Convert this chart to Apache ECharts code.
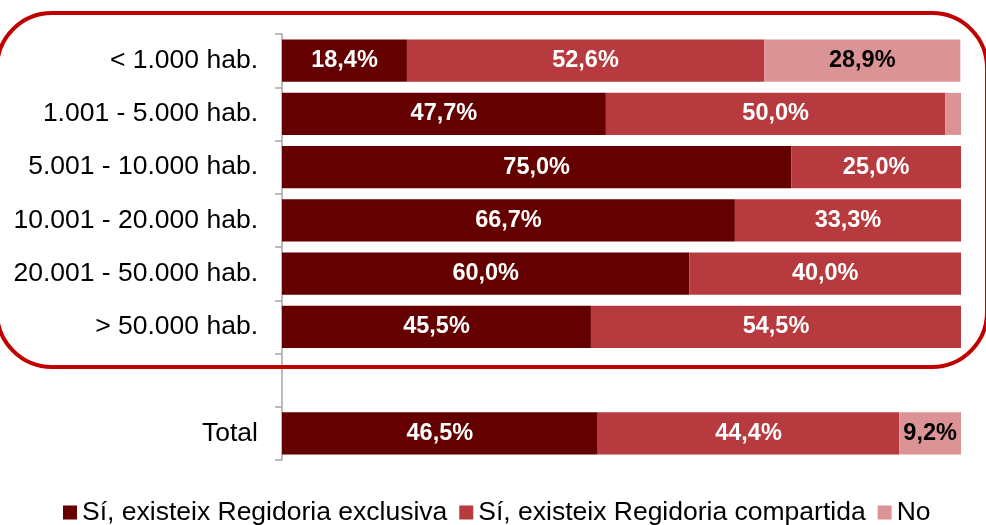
<!DOCTYPE html>
<html>
<head>
<meta charset="utf-8">
<script src="https://cdn.jsdelivr.net/npm/echarts@6/dist/echarts.min.js"></script>
<style>
html,body{margin:0;padding:0;background:#fff;}
#chart{width:986px;height:525px;}
</style>
</head>
<body>
<div id="chart"></div>
<script>
const categories = ['< 1.000 hab.', '1.001 - 5.000 hab.', '5.001 - 10.000 hab.', '10.001 - 20.000 hab.', '20.001 - 50.000 hab.', '> 50.000 hab.', '', 'Total'];
const seriesNames = ['Sí, existeix Regidoria exclusiva', 'Sí, existeix Regidoria compartida', 'No'];
const exclusiva = [18.4, 47.7, 75.0, 66.7, 60.0, 45.5, null, 46.5];
const compartida = [52.6, 50.0, 25.0, 33.3, 40.0, 54.5, null, 44.4];
const no = [28.9, 2.3, null, null, null, null, null, 9.2];
const colors = ['#640000', '#B73A3F', '#DC9396'];
const labelColors = ['#ffffff', '#ffffff', '#000000'];

const chart = echarts.init(document.getElementById('chart'));
const fmt = p => (p.value == null || p.value < 5) ? '' : p.value.toFixed(1).replace('.', ',') + '%';

const series = [exclusiva, compartida, no].map((d, i) => ({
  name: seriesNames[i],
  type: 'bar',
  stack: 'total',
  data: d,
  barWidth: '79%',
  itemStyle: { color: colors[i] },
  label: {
    show: true,
    position: 'inside',
    formatter: fmt,
    color: labelColors[i],
    fontFamily: 'Liberation Sans, Arial, sans-serif',
    fontWeight: 'bold',
    fontSize: 23.5
  },
  emphasis: { disabled: true }
}));

chart.setOption({
  animation: false,
  color: colors,
  grid: { left: 282, right: 25, top: 34, bottom: 65 },
  xAxis: { type: 'value', min: 0, max: 100, show: false },
  yAxis: {
    type: 'category',
    inverse: true,
    data: categories,
    axisLine: { show: true, lineStyle: { color: '#A6A6A6', width: 1.5 } },
    axisTick: { show: true, length: 7, lineStyle: { color: '#A6A6A6', width: 1.5 } },
    axisLabel: {
      margin: 24,
      color: '#000',
      fontFamily: 'Liberation Sans, Arial, sans-serif',
      fontSize: 26.5
    }
  },
  legend: {
    data: seriesNames,
    left: 58,
    top: 494,
    icon: 'rect',
    itemWidth: 14,
    itemHeight: 14,
    itemGap: 12,
    textStyle: { color: '#000', fontFamily: 'Liberation Sans, Arial, sans-serif', fontSize: 26.5 }
  },
  graphic: [{
    type: 'rect',
    shape: { x: -3, y: 13, width: 990, height: 354, r: 55 },
    style: { fill: null, stroke: '#C00000', lineWidth: 4 },
    silent: true,
    z: 100
  }],
  series: series
});
</script>
</body>
</html>
